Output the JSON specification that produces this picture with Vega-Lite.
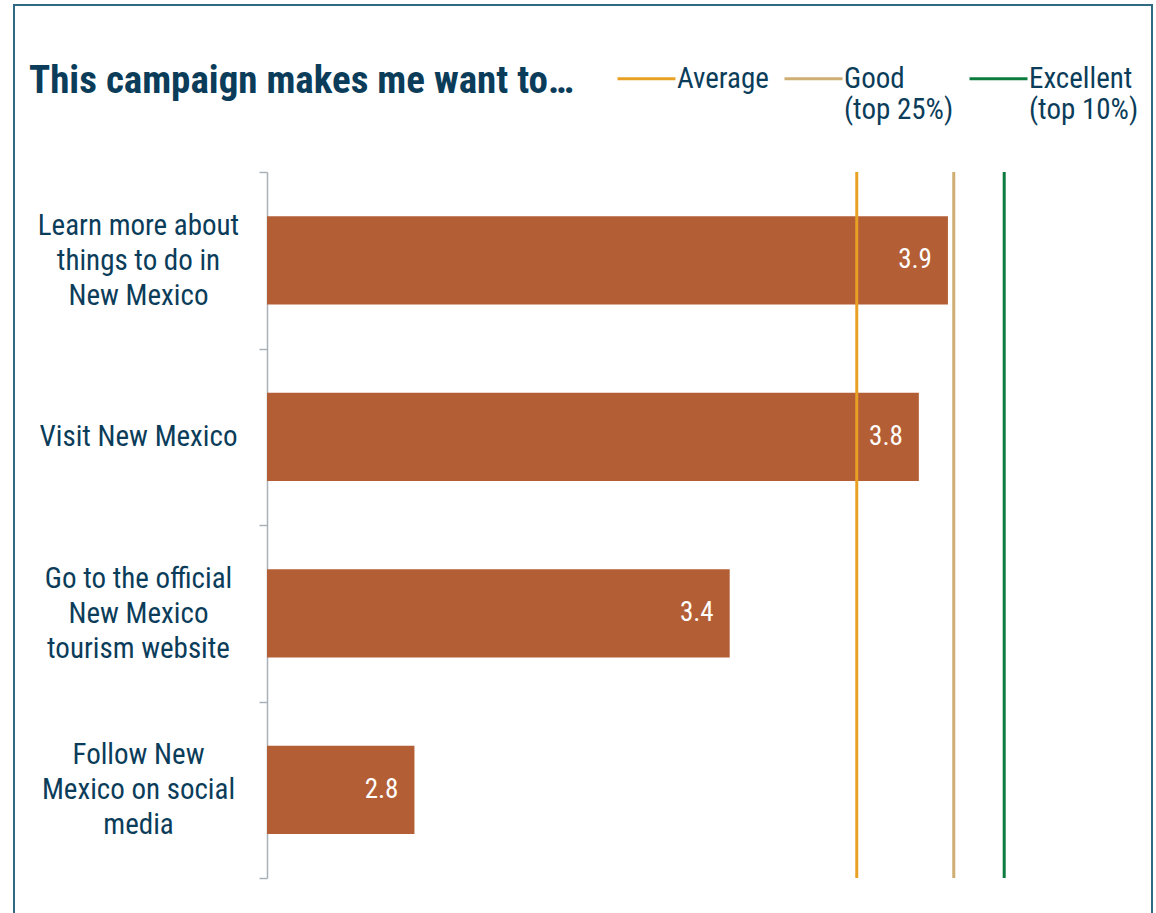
{
  "$schema": "https://vega.github.io/schema/vega-lite/v6.json",
  "width": 1138,
  "height": 918,
  "autosize": {"type": "none"},
  "padding": {"left": 14, "top": 5, "right": 4, "bottom": -10},
  "background": "white",
  "config": {
    "font": "Liberation Sans Narrow, Roboto Condensed, Arial Narrow, DejaVu Sans Condensed, sans-serif",
    "view": {"stroke": "#2f6a82", "strokeWidth": 2}
  },
  "title": {
    "text": "This campaign makes me want to…",
    "anchor": "start",
    "frame": "group",
    "fontSize": 39,
    "fontWeight": "bold",
    "color": "#0b3d5a",
    "baseline": "alphabetic",
    "offset": 0,
    "dx": 15,
    "dy": 141
  },
  "datasets": {
    "bars": [
      {"item": "Learn more about|things to do in|New Mexico", "value": 3.894},
      {"item": "Visit New Mexico", "value": 3.834},
      {"item": "Go to the official|New Mexico|tourism website", "value": 3.444},
      {"item": "Follow New|Mexico on social|media", "value": 2.794}
    ],
    "benchmarks": [
      {"level": "Average", "value": 3.706},
      {"level": "Good", "value": 3.906},
      {"level": "Excellent", "value": 4.01}
    ]
  },
  "layer": [
    {
      "data": {"name": "bars"},
      "encoding": {
        "y": {
          "field": "item",
          "type": "nominal",
          "sort": null,
          "scale": {"range": [167, 873], "paddingInner": 0, "paddingOuter": 0},
          "axis": {
            "title": null,
            "offset": -253,
            "domainColor": "#a9b0b8",
            "domainWidth": 1.5,
            "tickColor": "#a9b0b8",
            "tickWidth": 1.5,
            "tickSize": 8,
            "tickBand": "extent",
            "grid": false,
            "labelExpr": "split(datum.label, '|')",
            "labelAlign": "center",
            "labelPadding": 121,
            "labelOffset": {"condition": {"test": "indexof(datum.label, '|') >= 0", "value": -35}, "value": 0},
            "labelFontSize": 29,
            "labelLineHeight": 35,
            "labelColor": "#0b3d5a",
            "labelLimit": 0
          }
        },
        "x": {
          "field": "value",
          "type": "quantitative",
          "scale": {"domain": [2.49, 4.29], "range": [253, 1126], "zero": false},
          "axis": null
        }
      },
      "layer": [
        {
          "mark": {"type": "bar", "color": "#b45e35", "height": {"band": 0.5}},
          "encoding": {"x2": {"datum": 2.49}}
        },
        {
          "mark": {"type": "text", "align": "right", "baseline": "middle", "dx": -16, "color": "white", "fontSize": 27},
          "encoding": {"text": {"field": "value", "type": "quantitative", "format": ".1f"}}
        }
      ]
    },
    {
      "data": {"name": "benchmarks"},
      "mark": {"type": "rule", "strokeWidth": 3},
      "encoding": {
        "x": {
          "field": "value",
          "type": "quantitative",
          "scale": {"domain": [2.49, 4.29], "range": [253, 1126], "zero": false},
          "axis": null
        },
        "y": {"datum": 0, "type": "quantitative", "scale": {"domain": [0, 1], "range": [167, 873]}, "axis": null},
        "y2": {"datum": 1},
        "color": {
          "field": "level",
          "type": "nominal",
          "sort": null,
          "scale": {"domain": ["Average", "Good", "Excellent"], "range": ["#e9a125", "#cfae74", "#0b7c3e"]},
          "legend": {
            "orient": "none",
            "legendX": 602,
            "legendY": 43,
            "direction": "horizontal",
            "title": null,
            "symbolType": "stroke",
            "symbolSize": 3364,
            "symbolStrokeWidth": 3,
            "labelFontSize": 29,
            "labelColor": "#0b3d5a",
            "labelExpr": "datum.label == 'Good' ? ['Good', '(top 25%)'] : datum.label == 'Excellent' ? ['Excellent', '(top 10%)'] : ['Average', ' ']",
            "labelLineHeight": 37,
            "labelBaseline": "middle",
            "labelOffset": 0,
            "columnPadding": 9,
            "labelLimit": 0
          }
        }
      }
    }
  ],
  "resolve": {"scale": {"y": "independent"}}
}
